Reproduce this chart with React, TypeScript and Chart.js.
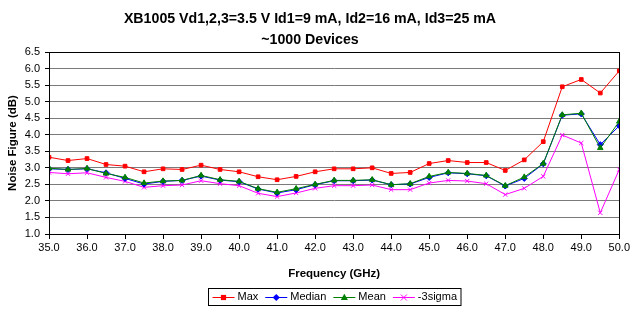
import React, { useEffect, useRef } from "react";
import { Chart, registerables } from "chart.js";

Chart.register(...registerables);

const titleLines = ["XB1005 Vd1,2,3=3.5 V Id1=9 mA, Id2=16 mA, Id3=25 mA", "~1000 Devices"];
const xTitle = "Frequency (GHz)";
const yTitle = "Noise Figure (dB)";

const frequency = [
  35.0, 35.5, 36.0, 36.5, 37.0, 37.5, 38.0, 38.5, 39.0, 39.5, 40.0, 40.5, 41.0, 41.5, 42.0, 42.5,
  43.0, 43.5, 44.0, 44.5, 45.0, 45.5, 46.0, 46.5, 47.0, 47.5, 48.0, 48.5, 49.0, 49.5, 50.0,
];
const maxNF = [
  3.32, 3.22, 3.28, 3.1, 3.05, 2.88, 2.97, 2.95, 3.08, 2.95, 2.88, 2.73, 2.64, 2.74, 2.88, 2.97,
  2.97, 3.0, 2.83, 2.86, 3.13, 3.22, 3.16, 3.16, 2.92, 3.24, 3.79, 5.45, 5.67, 5.26, 5.93,
];
const medianNF = [
  2.97, 2.95, 2.97, 2.85, 2.68, 2.51, 2.59, 2.62, 2.75, 2.63, 2.58, 2.36, 2.24, 2.34, 2.49, 2.61,
  2.61, 2.63, 2.49, 2.51, 2.71, 2.85, 2.82, 2.76, 2.45, 2.68, 3.12, 4.59, 4.63, 3.7, 4.27,
];
const meanNF = [
  2.99, 2.95, 2.98, 2.83, 2.71, 2.54, 2.6, 2.62, 2.77, 2.64, 2.59, 2.37, 2.26, 2.37, 2.5, 2.62,
  2.62, 2.64, 2.49, 2.52, 2.74, 2.86, 2.83, 2.77, 2.46, 2.72, 3.13, 4.6, 4.65, 3.6, 4.4,
];
const sigmaNF = [
  2.86, 2.82, 2.85, 2.71, 2.59, 2.41, 2.46, 2.48, 2.61, 2.52, 2.46, 2.23, 2.13, 2.24, 2.38, 2.46,
  2.46, 2.48, 2.34, 2.34, 2.54, 2.62, 2.6, 2.52, 2.19, 2.38, 2.74, 3.99, 3.75, 1.64, 2.95,
];

const FONT = "'Liberation Sans', Arial, sans-serif";

const series = [
  { label: "Max", data: maxNF, color: "#FF0000", style: "rect", radius: 2.6, order: 0 },
  { label: "Median", data: medianNF, color: "#0000FF", style: "rectRot", radius: 3, order: 2 },
  { label: "Mean", data: meanNF, color: "#008000", style: "triangle", radius: 3.2, order: 1 },
  { label: "-3sigma", data: sigmaNF, color: "#FF00FF", style: "crossRot", radius: 3, order: 3 },
];

function drawMarker(ctx: CanvasRenderingContext2D, style: string, x: number, y: number, r: number, color: string) {
  ctx.save();
  ctx.fillStyle = color;
  ctx.strokeStyle = color;
  ctx.lineWidth = 1;
  ctx.beginPath();
  if (style === "rect") {
    ctx.rect(x - r, y - r, 2 * r, 2 * r);
    ctx.fill();
  } else if (style === "rectRot") {
    ctx.moveTo(x, y - r * 1.2);
    ctx.lineTo(x + r * 1.2, y);
    ctx.lineTo(x, y + r * 1.2);
    ctx.lineTo(x - r * 1.2, y);
    ctx.closePath();
    ctx.fill();
  } else if (style === "triangle") {
    ctx.moveTo(x, y - r * 1.2);
    ctx.lineTo(x + r * 1.1, y + r * 0.8);
    ctx.lineTo(x - r * 1.1, y + r * 0.8);
    ctx.closePath();
    ctx.fill();
  } else {
    ctx.moveTo(x - r, y - r);
    ctx.lineTo(x + r, y + r);
    ctx.moveTo(x + r, y - r);
    ctx.lineTo(x - r, y + r);
    ctx.stroke();
  }
  ctx.restore();
}

const frameAndLegend = {
  id: "frameAndLegend",
  afterDatasetsDraw(chart: any) {
    const { ctx, chartArea } = chart;
    ctx.save();
    ctx.strokeStyle = "#000";
    ctx.lineWidth = 1;
    const l = Math.round(chartArea.left) + 0.5;
    const r = Math.round(chartArea.right) + 0.5;
    const t = Math.round(chartArea.top) + 0.5;
    const b = Math.round(chartArea.bottom) + 0.5;
    ctx.strokeRect(l, t, r - l, b - t);
    ctx.restore();
  },
  afterDraw(chart: any) {
    const { ctx, chartArea } = chart;
    ctx.save();
    ctx.font = `11px ${FONT}`;
    const pad = 4, lineLen = 22, gap = 3, itemGap = 7;
    const widths = series.map((s) => ctx.measureText(s.label).width);
    const total = pad * 2 + series.length * (lineLen + gap) + widths.reduce((a, b) => a + b, 0) + itemGap * (series.length - 1);
    const cx = (chartArea.left + chartArea.right) / 2;
    const bx = Math.round(cx - total / 2) + 0.5;
    const by = Math.round(chart.scales.x.bottom + 4) + 0.5;
    const bh = 17;
    ctx.fillStyle = "#fff";
    ctx.fillRect(bx, by, total, bh);
    ctx.strokeStyle = "#000";
    ctx.lineWidth = 1;
    ctx.strokeRect(bx, by, total, bh);
    let x = bx + pad;
    const yc = by + bh / 2;
    series.forEach((s, i) => {
      ctx.strokeStyle = s.color;
      ctx.lineWidth = 1;
      ctx.beginPath();
      ctx.moveTo(x, Math.round(yc) + 0.5);
      ctx.lineTo(x + lineLen, Math.round(yc) + 0.5);
      ctx.stroke();
      drawMarker(ctx, s.style, x + lineLen / 2, Math.round(yc) + 0.5, s.radius, s.color);
      x += lineLen + gap;
      ctx.fillStyle = "#000";
      ctx.textBaseline = "middle";
      ctx.textAlign = "left";
      ctx.fillText(s.label, x, yc);
      x += widths[i] + itemGap;
    });
    ctx.restore();
  },
};

export default function App() {
  const ref = useRef<HTMLCanvasElement | null>(null);
  useEffect(() => {
    if (!ref.current) return;
    const chart = new Chart(ref.current, {
      type: "line",
      data: {
        datasets: series.map((s) => ({
          label: s.label,
          data: frequency.map((f, i) => ({ x: f, y: s.data[i] })),
          borderColor: s.color,
          backgroundColor: s.color,
          borderWidth: 1,
          pointStyle: s.style as any,
          pointRadius: s.radius,
          pointBorderWidth: 1,
          pointBackgroundColor: s.color,
          pointBorderColor: s.color,
          tension: 0,
          order: s.order,
        })),
      },
      options: {
        animation: false,
        responsive: false,
        devicePixelRatio: 1,
        layout: { padding: { left: 0, right: 12, top: 0, bottom: 25 } },
        plugins: {
          legend: { display: false },
          tooltip: { enabled: false },
          title: {
            display: true,
            text: titleLines,
            color: "#000",
            font: { family: FONT, size: 14.2, weight: "bold", lineHeight: "21px" },
            padding: { top: 8.5, bottom: 1.5 },
          },
        },
        scales: {
          x: {
            type: "linear",
            min: 35,
            max: 50,
            ticks: {
              stepSize: 1,
              color: "#000",
              font: { family: FONT, size: 11 },
              padding: 2,
              maxRotation: 0,
              callback: (v: any) => Number(v).toFixed(1),
            },
            grid: { drawOnChartArea: false, drawTicks: true, tickLength: 5, tickColor: "#000" },
            border: { display: true, color: "#000", width: 1 },
            title: {
              display: true,
              text: xTitle,
              color: "#000",
              font: { family: FONT, size: 11.5, weight: "bold" },
              padding: { top: 0, bottom: 3 },
            },
            afterFit: (scale: any) => {
              scale.height = 50;
            },
          },
          y: {
            type: "linear",
            min: 1,
            max: 6.5,
            ticks: {
              stepSize: 0.5,
              color: "#000",
              font: { family: FONT, size: 11 },
              padding: 5,
              callback: (v: any) => Number(v).toFixed(1),
            },
            grid: { color: "#7a7a7a", lineWidth: 1, drawTicks: true, tickLength: 4, tickColor: "#000" },
            border: { display: true, color: "#000", width: 1 },
            title: {
              display: true,
              text: yTitle,
              color: "#000",
              font: { family: FONT, size: 11.5, weight: "bold" },
              padding: { top: 6, bottom: 0 },
            },
            afterFit: (scale: any) => {
              scale.width = 49;
            },
          },
        },
      },
      plugins: [frameAndLegend],
    });
    return () => chart.destroy();
  }, []);
  return (
    <div style={{ position: "absolute", left: 0, top: 0, width: 632, height: 309, background: "#fff" }}>
      <canvas ref={ref} width={632} height={309} style={{ width: 632, height: 309, display: "block" }} />
    </div>
  );
}
